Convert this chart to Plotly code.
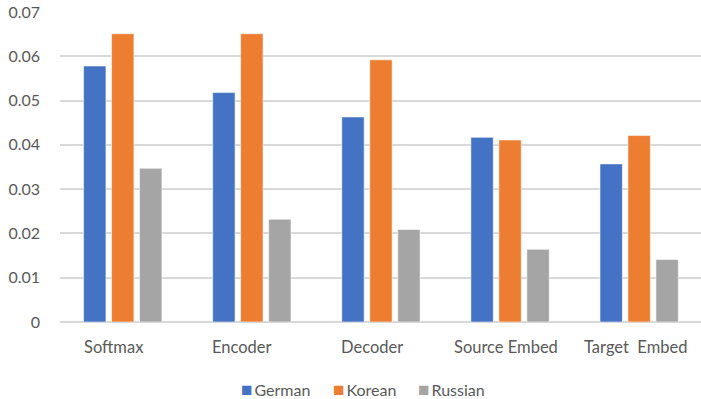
import plotly.graph_objects as go

# Component groups and per-language values
categories = ["Softmax", "Encoder", "Decoder", "Source Embed", "Target Embed"]
category_labels = ["Softmax", "Encoder", "Decoder", "Source Embed", "Target\u00a0\u00a0Embed"]
german = [0.0578, 0.0518, 0.0463, 0.0417, 0.0357]
korean = [0.0651, 0.0651, 0.0592, 0.0411, 0.0421]
russian = [0.0347, 0.0232, 0.0209, 0.0164, 0.0141]
y_ticks = [0, 0.01, 0.02, 0.03, 0.04, 0.05, 0.06, 0.07]
y_tick_text = ["0", "0.01", "0.02", "0.03", "0.04", "0.05", "0.06", "0.07"]

# Category label placement along the x axis (data units)
label_x = [-0.071, 0.926, 1.934, 2.965, 3.973]
# Legend entry left edges (paper units)
legend_x = [0.281, 0.4245, 0.5575]

FONT = "Lato, Carlito, Calibri, sans-serif"
TEXT_COLOR = "#595959"
GRID = "#D9D9D9"

x_idx = list(range(len(categories)))

fig = go.Figure()
series = [("German", german, "#4472C4"),
          ("Korean", korean, "#ED7D31"),
          ("Russian", russian, "#A5A5A5")]
for name, vals, color in series:
    fig.add_trace(go.Bar(
        x=x_idx, y=vals, name=name,
        marker=dict(color=color, line=dict(color="rgba(255,255,255,0.55)", width=1)),
    ))

for lx, txt in zip(label_x, category_labels):
    fig.add_annotation(
        x=lx, y=0, xref="x", yref="y", text=txt, showarrow=False,
        yshift=-25, font=dict(family=FONT, size=16.5, color=TEXT_COLOR),
        xanchor="center", yanchor="middle",
    )

# Legend row beneath the category labels
for lx, (name, _, color) in zip(legend_x, series):
    fig.add_annotation(
        x=lx, y=-0.213, xref="paper", yref="paper", showarrow=False,
        xanchor="left", yanchor="middle", borderpad=0,
        text=f"<span style='color:{color};font-size:19px'>■</span>\u2009{name}",
        font=dict(family=FONT, size=16, color=TEXT_COLOR),
    )

fig.update_layout(
    width=701, height=399,
    margin=dict(l=60, r=0, t=12, b=77, autoexpand=False),
    paper_bgcolor="white", plot_bgcolor="white",
    barmode="group", bargap=0.35, bargroupgap=0.2,
    font=dict(family=FONT, size=16, color=TEXT_COLOR),
    showlegend=False,
    xaxis=dict(
        range=[-0.486, 4.479], showticklabels=False, showgrid=False,
        zeroline=False, showline=False, ticks="",
    ),
    yaxis=dict(
        range=[0, 0.07], tickvals=y_ticks, ticktext=y_tick_text,
        showgrid=True, gridcolor=GRID, gridwidth=1.5,
        zeroline=True, zerolinecolor=GRID, zerolinewidth=1.5,
        showline=False, ticks="", ticklabelstandoff=19,
        tickfont=dict(family=FONT, size=16, color=TEXT_COLOR),
    ),
)

fig.write_html("out.html")
